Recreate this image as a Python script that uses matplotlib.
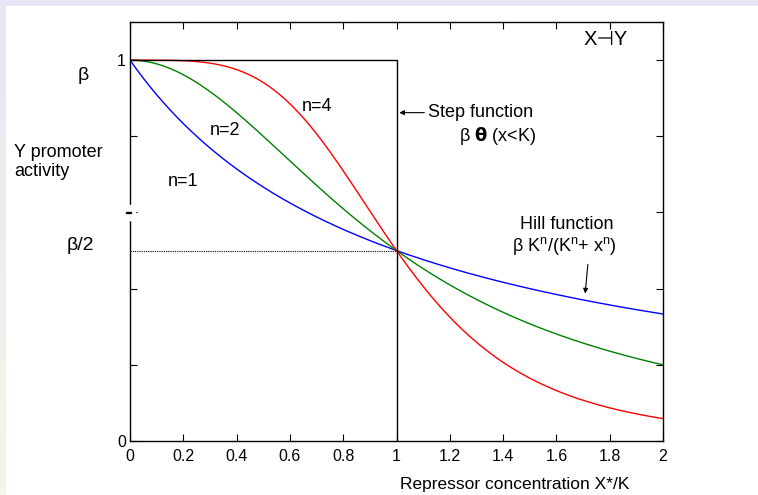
import numpy as np
import matplotlib
matplotlib.use("Agg")
import matplotlib.pyplot as plt
from matplotlib.patches import Rectangle

plt.rcParams['font.family'] = ['Liberation Sans', 'DejaVu Sans']

# data
hill_orders = [1, 2, 4]
hill_colors = ['#0000ff', '#008000', '#ff0000']
hill_labels = ['n=1', 'n=2', 'n=4']
x = np.linspace(0, 2, 401)
step_x = [0, 1, 1]
step_y = [1, 1, 0]
half_x = [0, 1]
half_y = [0.5, 0.5]
xticks = [0, 0.2, 0.4, 0.6, 0.8, 1, 1.2, 1.4, 1.6, 1.8, 2]
xtick_labels = ['0', '0.2', '0.4', '0.6', '0.8', '1', '1.2', '1.4', '1.6', '1.8', '2']
yticks = [0, 0.2, 0.4, 0.6, 0.8, 1]
ytick_labels = ['0', '', '', '', '', '1']

W, H = 758, 495
fig = plt.figure(figsize=(W / 100, H / 100), dpi=100)
fig.patch.set_facecolor('white')

# slide background strips
bg = fig.add_axes([0, 0, 1, 1], zorder=-10)
bg.set_xlim(0, W); bg.set_ylim(H, 0); bg.axis('off')
grad = np.linspace(0, 1, 100)[:, None]
c0 = np.array([0.902, 0.902, 0.965]); c1 = np.array([0.965, 0.965, 0.906])
img = (c0[None, None, :] * (1 - grad[:, :, None]) + c1[None, None, :] * grad[:, :, None])
bg.imshow(img, extent=[0, 6, H, 0], aspect='auto')
bg.add_patch(Rectangle((0, 0), W, 6, color='#e6e6f6', lw=0))

ax = fig.add_axes([130 / W, (H - 441) / H, 533 / W, 419 / H])
ax.set_xlim(0, 2)
ax.set_ylim(0, 1.1)

for n, c in zip(hill_orders, hill_colors):
    ax.plot(x, 1 / (1 + x ** n), color=c, lw=1)
ax.plot(step_x, step_y, color='black', lw=1)
ax.plot(half_x, half_y, color='black', lw=0.8, ls=(0, (1, 1)))

ax.set_xticks(xticks)
ax.set_xticklabels(xtick_labels, fontsize=11.5)
ax.set_yticks(yticks)
ax.set_yticklabels(ytick_labels, fontsize=11.5)
ax.tick_params(direction='in', top=True, right=True, length=5, width=0.8)
ax.tick_params(axis='x', pad=6)
ax.tick_params(axis='y', pad=3)
for s in ax.spines.values():
    s.set_linewidth(1)

fs = 13
ax.text(0.14, 0.68, hill_labels[0], fontsize=fs, va='center')
ax.text(0.30, 0.816, hill_labels[1], fontsize=fs, va='center')
ax.text(0.645, 0.879, hill_labels[2], fontsize=fs, va='center')
ax.annotate('', xy=(1.0, 0.862), xytext=(1.115, 0.862),
            arrowprops=dict(arrowstyle='-|>', color='black', lw=0.8, mutation_scale=7))
ax.text(1.12, 0.862, 'Step function', fontsize=fs, va='center')
ax.text(1.235, 0.8, r'β $\mathbf{\theta}$ (x<K)', fontsize=fs, va='center')
ax.text(1.785, 1.055, 'X⊣Y', fontsize=14.5, va='center', ha='center')
ax.text(1.64, 0.568, 'Hill function', fontsize=fs, va='center', ha='center')
ax.text(1.63, 0.513, r'β K$^{\mathregular{n}}$/(K$^{\mathregular{n}}$+ x$^{\mathregular{n}}$)', fontsize=fs, va='center', ha='center')
ax.annotate('', xy=(1.707, 0.38), xytext=(1.719, 0.471),
            arrowprops=dict(arrowstyle='-|>', color='black', lw=0.8, mutation_scale=7))

fig.text(83 / W, 1 - 76 / H, 'β', fontsize=14, ha='center', va='center')
fig.text(14 / W, 1 - 162 / H, 'Y promoter\nactivity', fontsize=13, ha='left', va='center', linespacing=1.15)
fig.text(80 / W, 1 - 245 / H, 'β/2', fontsize=14, ha='center', va='center')
fig.text(515 / W, 1 - 485 / H, 'Repressor concentration X*/K', fontsize=12.5, ha='center', va='center')

# white cover across left spine gap
fig.add_artist(Rectangle((125 / W, 1 - 220 / H), 10 / W, 15 / H, color='white', transform=fig.transFigure, zorder=10))
fig.add_artist(Rectangle((126 / W, 1 - 213 / H), 5 / W, 1 / H, color='black', transform=fig.transFigure, zorder=11))

fig.savefig('out.png', dpi=100)
